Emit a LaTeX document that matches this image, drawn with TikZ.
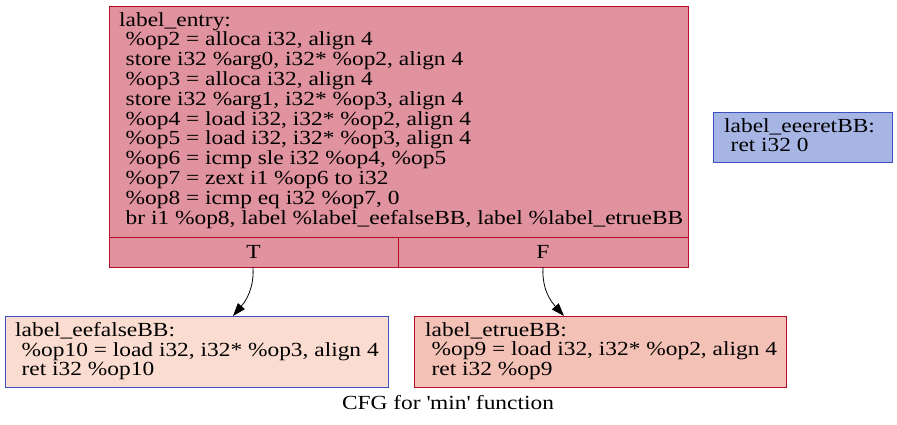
\documentclass[tikz,border=0pt]{standalone}
\usepackage{fontspec}
\setmainfont[FakeStretch=1.17]{Liberation Serif}
\usetikzlibrary{arrows.meta}
\definecolor{entryfill}{HTML}{E0939E}
\definecolor{redline}{HTML}{B70D28}
\definecolor{blueline}{HTML}{3D50C3}
\definecolor{retfill}{HTML}{A7B5E5}
\definecolor{falsefill}{HTML}{FADCD0}
\definecolor{truefill}{HTML}{F4C1B6}
\newcommand{\ind}{\hspace*{6.5pt}}
\begin{document}
\begin{tikzpicture}[x=1pt,y=-1pt,
  blk/.style={draw,line width=0.8pt,rectangle,inner sep=0pt},
  txt/.style={anchor=north west,align=left,inner sep=0pt,font=\fontsize{20}{19.8}\selectfont},
  lab/.style={inner sep=0pt,font=\fontsize{20}{19.8}\selectfont},
  edge/.style={-{Triangle[length=13pt,width=9pt]},line width=0.8pt}]
\useasboundingbox (0,0) rectangle (897,424);
% entry block
\node[blk,fill=entryfill,draw=redline,minimum width=579pt,minimum height=261pt] (entry) at (398.5,136.5) {};
\draw[redline,line width=0.8pt] (109,237) -- (688,237);
\draw[redline,line width=0.8pt] (398,237) -- (398,267);
\node[txt] (entrytxt) at (119,12) {label\_entry:\\
\ind\%op2 = alloca i32, align 4\\
\ind store i32 \%arg0, i32* \%op2, align 4\\
\ind\%op3 = alloca i32, align 4\\
\ind store i32 \%arg1, i32* \%op3, align 4\\
\ind\%op4 = load i32, i32* \%op2, align 4\\
\ind\%op5 = load i32, i32* \%op3, align 4\\
\ind\%op6 = icmp sle i32 \%op4, \%op5\\
\ind\%op7 = zext i1 \%op6 to i32\\
\ind\%op8 = icmp eq i32 \%op7, 0\\
\ind br i1 \%op8, label \%label\_eefalseBB, label \%label\_etrueBB};
\node[lab] (tlab) at (253.5,252) {T};
\node[lab] (flab) at (543,252) {F};
\coordinate (tport) at (253,267);
\coordinate (fport) at (543,267);
% ret block
\node[blk,fill=retfill,draw=blueline,minimum width=179pt,minimum height=50pt] (ret) at (802.5,137) {};
\node[txt] (rettxt) at (724,118) {label\_eeeretBB:\\ \ind ret i32 0};
% false block
\node[blk,fill=falsefill,draw=blueline,minimum width=383pt,minimum height=71pt] (fbb) at (196.5,351.5) {};
\node[txt] (fbbtxt) at (15,322) {label\_eefalseBB:\\ \ind\%op10 = load i32, i32* \%op3, align 4\\ \ind ret i32 \%op10};
% true block
\node[blk,fill=truefill,draw=redline,minimum width=372pt,minimum height=71pt] (tbb) at (600,351.5) {};
\node[txt] (tbbtxt) at (425,322) {label\_etrueBB:\\ \ind\%op9 = load i32, i32* \%op2, align 4\\ \ind ret i32 \%op9};
% caption
\node[lab] (cap) at (448,402.5) {CFG for \textquotesingle min\textquotesingle\ function};
% edges
\coordinate (tin) at (233,316);
\coordinate (fin) at (564,316);
\draw[edge] (tport) .. controls (254,282) and (250,296) .. (tin);
\draw[edge] (fport) .. controls (542,282) and (546,296) .. (fin);
\end{tikzpicture}
\end{document}
